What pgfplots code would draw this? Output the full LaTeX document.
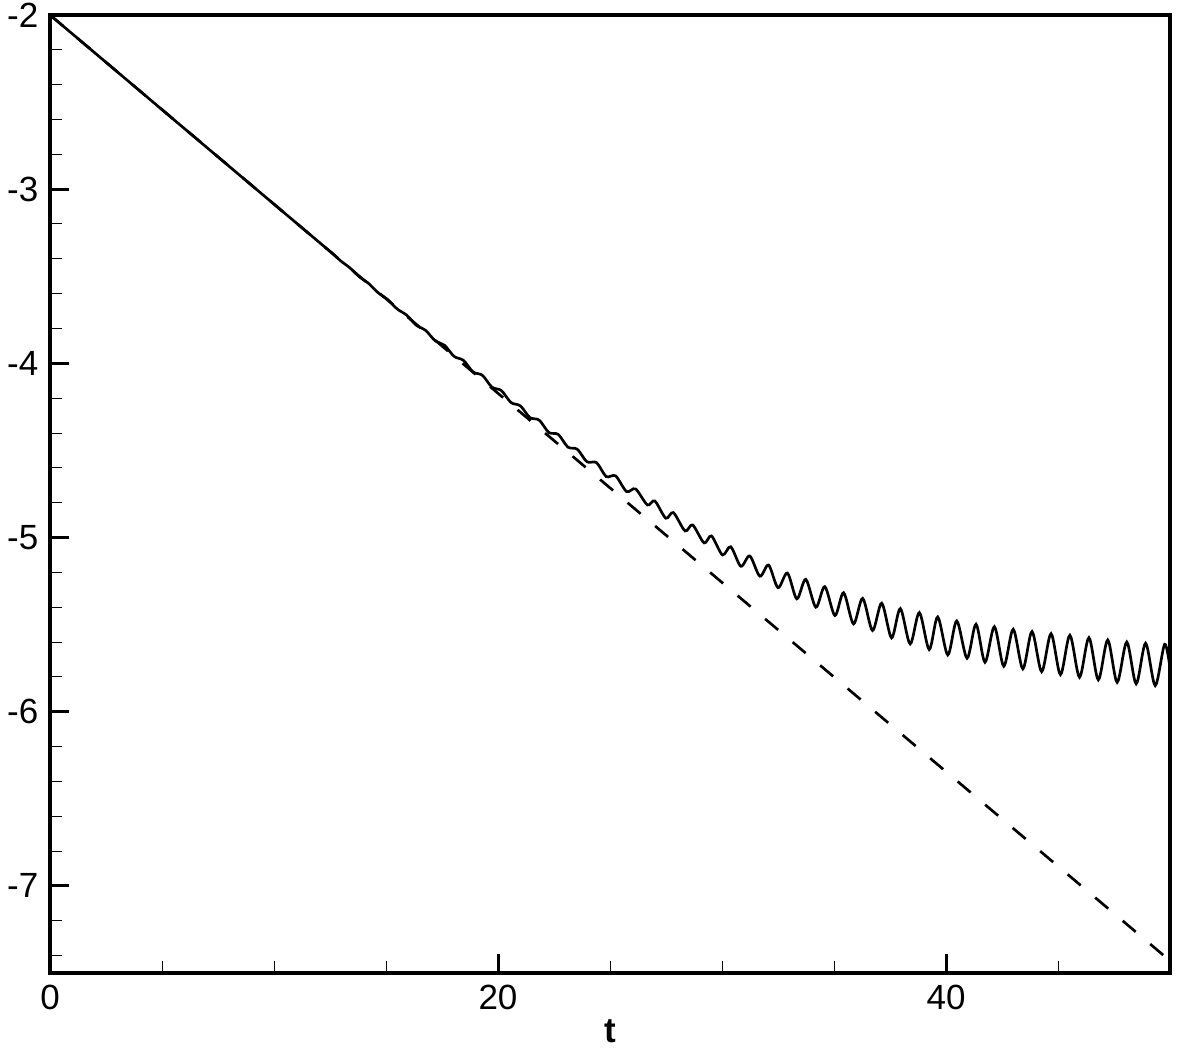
\documentclass[border=0pt]{standalone}
\usepackage{fontspec}
\setmainfont{Liberation Sans}
\usepackage{pgfplots}
\pgfplotsset{compat=1.18}
\usetikzlibrary{calc}

\begin{document}
\begin{tikzpicture}
\begin{axis}[
    name=ax,
    scale only axis,
    width=336pt, height=287.4pt,
    xmin=0, xmax=50, ymin=-7.5, ymax=-2,
    xtick={0,20,40}, xticklabels={0,20,40},
    minor xtick={5,10,15,25,30,35,45},
    ytick={-7,-6,-5,-4,-3,-2}, yticklabels={-7,-6,-5,-4,-3,-2},
    minor ytick={-7.4,-7.2,-6.8,-6.6,-6.4,-6.2,-5.8,-5.6,-5.4,-5.2,-4.8,-4.6,-4.4,-4.2,-3.8,-3.6,-3.4,-3.2,-2.8,-2.6,-2.4,-2.2},
    tick pos=left, tick align=inside,
    major tick length=5.7pt, minor tick length=3.5pt,
    major tick style={line width=0.9pt, black},
    minor tick style={line width=0.3pt, black},
    axis line style={line width=1.2pt},
    tick label style={font=\fontsize{10.5}{12}\selectfont},
    xlabel={t},
    xlabel style={font=\fontsize{10.5}{12}\selectfont\bfseries,
        at={(rel axis cs:0.5,0)}, anchor=center, yshift=-17.4pt},
]
% dashed reference slope
\addplot[black, line width=0.8pt, dash pattern=on 5.1pt off 5.7pt]
    coordinates {(0,-2) (50,-7.43)};
% computed solution
\addplot[black, line width=0.8pt, smooth] coordinates {
(0,-2) (6,-2.652) (12.1,-3.314)
(12.54,-3.361) (12.97,-3.411) (13.38,-3.451) (13.81,-3.503)
(14.23,-3.542) (14.66,-3.596) (15.07,-3.633) (15.50,-3.688)
(15.92,-3.723) (16.35,-3.781) (16.77,-3.811) (17.20,-3.871)
(17.61,-3.896) (18.04,-3.960) (18.46,-3.983) (18.89,-4.050)
(19.30,-4.068) (19.73,-4.137) (20.15,-4.156) (20.58,-4.225)
(21.00,-4.244) (21.42,-4.311) (21.84,-4.326) (22.27,-4.397)
(22.69,-4.408) (23.12,-4.481) (23.54,-4.493) (23.97,-4.565)
(24.40,-4.570) (24.83,-4.650) (25.25,-4.646) (25.74,-4.736)
(26.14,-4.721) (26.67,-4.813) (27.00,-4.790) (27.49,-4.889)
(27.83,-4.857) (28.35,-4.962) (28.69,-4.928) (29.20,-5.031)
(29.53,-4.991) (30.02,-5.100) (30.39,-5.053) (30.84,-5.165)
(31.24,-5.106) (31.69,-5.222) (32.08,-5.158) (32.50,-5.288)
(32.92,-5.204) (33.34,-5.352) (33.74,-5.240) (34.19,-5.400)
(34.59,-5.282) (35.04,-5.448) (35.43,-5.317) (35.87,-5.496)
(36.28,-5.349) (36.72,-5.534) (37.13,-5.377) (37.57,-5.576)
(37.96,-5.408) (38.40,-5.611) (38.81,-5.431) (39.25,-5.643)
(39.63,-5.456) (40.08,-5.674) (40.48,-5.479) (40.94,-5.693)
(41.34,-5.498) (41.74,-5.716) (42.16,-5.512) (42.58,-5.739)
(43.00,-5.527) (43.43,-5.754) (43.84,-5.540) (44.27,-5.770)
(44.69,-5.552) (45.11,-5.787) (45.53,-5.561) (45.96,-5.802)
(46.38,-5.575) (46.80,-5.817) (47.22,-5.588) (47.64,-5.831)
(48.07,-5.600) (48.49,-5.840) (48.91,-5.607) (49.34,-5.850)
(49.76,-5.613) (50.00,-5.750)
};
\end{axis}
\pgfresetboundingbox
\path ($(ax.south west)+(-15pt,-24.9pt)$) rectangle ($(ax.north east)+(2.1pt,4.5pt)$);
\end{tikzpicture}
\end{document}
